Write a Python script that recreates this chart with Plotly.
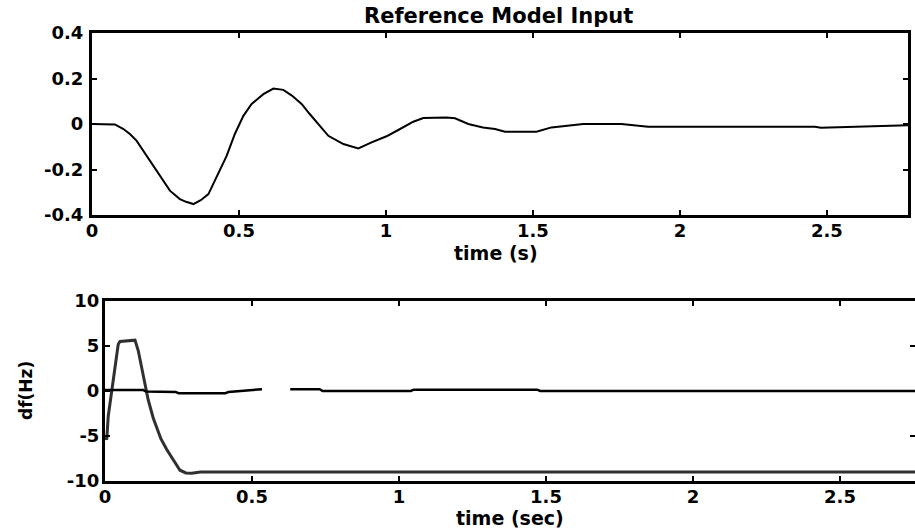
import plotly.graph_objects as go

# ---- data ----
t_top = [0, 0.04, 0.078, 0.107, 0.13, 0.152, 0.186, 0.209, 0.243, 0.265, 0.299, 0.32, 0.345,
         0.37, 0.396, 0.424, 0.458, 0.486, 0.515, 0.543, 0.583, 0.617, 0.651, 0.68, 0.713,
         0.74, 0.77, 0.804, 0.855, 0.906, 0.951, 1.002, 1.048, 1.093, 1.127, 1.17, 1.206,
         1.235, 1.28, 1.33, 1.371, 1.405, 1.512, 1.563, 1.671, 1.801, 1.892, 2.119, 2.459,
         2.48, 2.63, 2.776]
v_top = [0, 0.0, -0.002, -0.022, -0.045, -0.074, -0.14, -0.19, -0.254, -0.293, -0.33, -0.342,
         -0.352, -0.335, -0.308, -0.235, -0.14, -0.044, 0.036, 0.088, 0.131, 0.156, 0.15,
         0.125, 0.088, 0.045, 0.0, -0.052, -0.088, -0.107, -0.081, -0.054, -0.022, 0.01,
         0.026, 0.029, 0.029, 0.025, 0.0, -0.015, -0.022, -0.034, -0.034, -0.015, 0.0, 0.0,
         -0.012, -0.012, -0.012, -0.016, -0.012, -0.006]

t_df1 = [0.0, 0.006, 0.011, 0.023, 0.032, 0.045, 0.051, 0.079, 0.102, 0.113, 0.130, 0.147,
         0.164, 0.19, 0.21, 0.232, 0.255, 0.275, 0.295, 0.325, 2.776]
v_df1 = [-5.0, -5.4, -2.8, -0.1, 2.5, 5.2, 5.5, 5.55, 5.65, 4.5, 1.6, -1.0, -3.0, -5.3, -6.5,
         -7.7, -8.8, -9.1, -9.15, -9.0, -9.0]

t_df2 = [0.0, 0.13, 0.14, 0.24, 0.25, 0.41, 0.42, 0.49, 0.534, None, 0.63, 0.73, 0.74, 1.04,
         1.05, 1.47, 1.48, 2.776]
v_df2 = [0.1, 0.1, -0.05, -0.1, -0.25, -0.25, -0.1, 0.1, 0.2, None, 0.2, 0.2, 0.0, 0.0,
         0.15, 0.15, 0.0, 0.0]

top_yticks = [0.4, 0.2, 0, -0.2, -0.4]
top_yticktext = ["0.4", "0.2", "0", "-0.2", "-0.4"]
bot_yticks = [10, 5, 0, -5, -10]
bot_yticktext = ["10", "5", "0", "-5", "-10"]
xticks = [0, 0.5, 1, 1.5, 2, 2.5]
xticktext = ["0", "0.5", "1", "1.5", "2", "2.5"]

title_text = "Reference Model Input"
xtitle_top = "time (s)"
xtitle_bot = "time (sec)"
ytitle_bot = "df(Hz)"

# ---- figure ----
W, H = 915, 529
FONT = "DejaVu Sans"

fig = go.Figure()
fig.add_trace(go.Scatter(x=t_top, y=v_top, mode="lines", line=dict(color="black", width=2),
                         xaxis="x", yaxis="y", showlegend=False))
fig.add_trace(go.Scatter(x=t_df1, y=v_df1, mode="lines", line=dict(color="#303030", width=3),
                         xaxis="x2", yaxis="y2", showlegend=False))
fig.add_trace(go.Scatter(x=t_df2, y=v_df2, mode="lines", line=dict(color="black", width=2.5),
                         xaxis="x2", yaxis="y2", showlegend=False, connectgaps=False))

axis_common = dict(showline=True, linecolor="black", linewidth=3, mirror="ticks",
                   ticks="inside", ticklen=5, tickwidth=2, tickcolor="black",
                   showgrid=False, zeroline=False, automargin=False,
                   tickfont=dict(family=FONT, size=18, color="black", weight="bold"))

fig.update_layout(
    width=W, height=H,
    margin=dict(l=0, r=0, t=0, b=0, pad=0, autoexpand=False),
    paper_bgcolor="white", plot_bgcolor="white",
    xaxis=dict(domain=[92 / W, 908 / W], range=[0, 2.776], anchor="y",
               tickvals=xticks, ticktext=xticktext, ticklabelstandoff=-3, **axis_common),
    yaxis=dict(domain=[1 - 215 / H, 1 - 33 / H], range=[-0.4, 0.4], anchor="x",
               tickvals=top_yticks, ticktext=top_yticktext, ticklabelstandoff=2, **axis_common),
    xaxis2=dict(domain=[105 / W, 1.0], range=[0, 2.755], anchor="y2",
                tickvals=xticks, ticktext=xticktext, ticklabelstandoff=-3, **axis_common),
    yaxis2=dict(domain=[1 - 481 / H, 1 - 301 / H], range=[-10, 10], anchor="x2",
                tickvals=bot_yticks, ticktext=bot_yticktext, ticklabelstandoff=-1, **axis_common),
    annotations=[
        dict(text="<b>" + title_text + "</b>", x=498 / W, y=1 - 16 / H, xref="paper", yref="paper",
             showarrow=False, font=dict(family=FONT, size=21, color="black"),
             xanchor="center", yanchor="middle"),
        dict(text="<b>" + xtitle_top + "</b>", x=496 / W, y=1 - 253 / H, xref="paper", yref="paper",
             showarrow=False, font=dict(family=FONT, size=19, color="black"),
             xanchor="center", yanchor="middle"),
        dict(text="<b>" + xtitle_bot + "</b>", x=510 / W, y=1 - 518 / H, xref="paper", yref="paper",
             showarrow=False, font=dict(family=FONT, size=19, color="black"),
             xanchor="center", yanchor="middle"),
        dict(text="<b>" + ytitle_bot + "</b>", x=26 / W, y=1 - 391 / H, xref="paper", yref="paper",
             showarrow=False, textangle=-90, font=dict(family=FONT, size=17, color="black"),
             xanchor="center", yanchor="middle"),
    ],
)

fig.write_html("out.html", config={"displayModeBar": False},
               post_script="document.body.style.margin='0px';")
